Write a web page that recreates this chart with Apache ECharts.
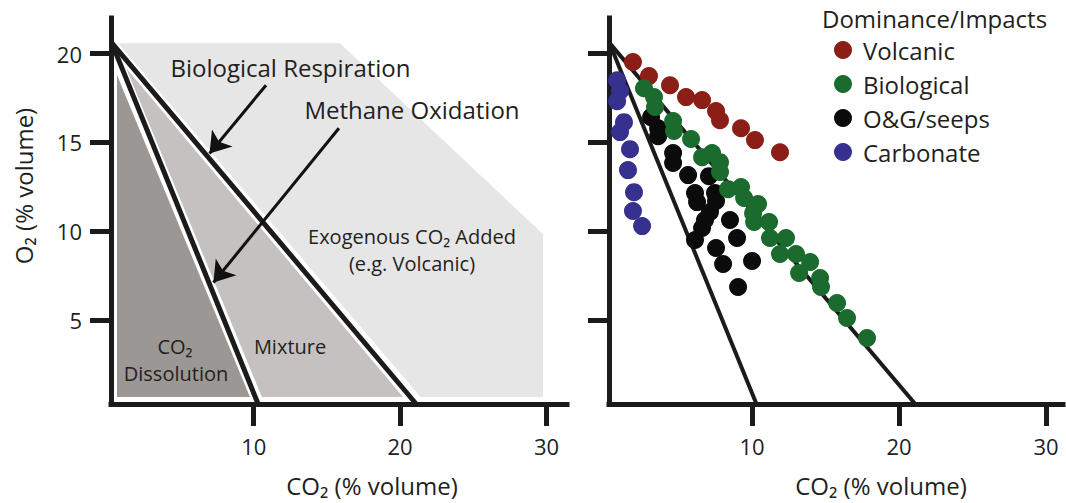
<!DOCTYPE html>
<html><head><meta charset="utf-8">
<script src="https://cdn.jsdelivr.net/npm/echarts@6/dist/echarts.min.js"></script>
<style>html,body{margin:0;padding:0;background:#fff}#c{width:1066px;height:503px}</style>
</head><body><div id="c"></div>
<script>
// ---------- data ----------
const xTicks = [10, 20, 30];
const yTicks = [5, 10, 15, 20];
const seriesNames = ['Volcanic', 'Biological', 'O&G/seeps', 'Carbonate'];
const volcanic = [[1.90,19.52],[2.99,18.73],[4.42,18.22],[5.51,17.55],[6.60,17.38],[7.55,16.76],[7.82,16.25],[9.25,15.80],[10.20,15.13],[11.90,14.45]];
const biological = [[2.65,18.05],[3.33,17.55],[3.40,16.99],[4.63,16.20],[4.69,15.64],[5.85,15.19],[6.60,14.17],[7.28,14.40],[7.82,13.89],[7.82,13.33],[8.37,12.37],[9.25,12.49],[9.46,11.87],[10.41,11.53],[10.07,11.02],[10.14,10.52],[11.16,10.52],[11.22,9.62],[12.31,9.62],[11.90,8.72],[12.99,8.72],[13.95,8.27],[13.20,7.65],[14.63,7.37],[14.69,6.86],[15.78,5.96],[16.46,5.12],[17.82,3.99]];
const ogSeeps = [[3.13,16.42],[3.61,15.80],[3.61,15.35],[4.63,14.40],[4.63,13.84],[5.65,13.16],[7.07,13.10],[6.12,12.15],[6.26,11.64],[7.48,12.15],[7.55,11.70],[7.14,11.08],[6.80,10.63],[6.60,10.18],[6.12,9.51],[8.50,10.63],[8.98,9.62],[7.55,9.06],[8.03,8.16],[10.00,8.33],[9.05,6.86]];
const carbonate = [[0.82,18.50],[1.02,17.89],[0.82,17.32],[1.29,16.14],[1.02,15.58],[1.70,14.62],[1.56,13.44],[1.97,12.20],[1.90,11.14],[2.52,10.29]];
const respirationLine = [[0.3,20.6],[21.1,0.28]];
const methaneLine = [[0.3,20.6],[10.3,0.28]];
const exogenousRegion = [[0.73,20.58],[15.89,20.58],[29.76,9.84],[29.76,0.67],[21.4,0.67]];
const mixtureRegion = [[1.28,19.18],[20.2,0.67],[10.56,0.67]];
const dissolutionRegion = [[0.66,18.79],[9.74,0.67],[0.66,0.67]];
const arrowRespiration = [[10.84,18.22],[6.98,14.38]];
const arrowMethane = [[15.82,15.80],[7.25,7.12]];
const bigLabels = [['Biological Respiration',[12.51,19.23]],['Methane Oxidation',[20.81,16.87]]];
const smallLabels = [['Exogenous CO₂ Added',[20.81,9.69]],['(e.g. Volcanic)',[20.81,8.18]],['Mixture',[12.48,3.54]],['CO₂',[4.62,3.54]],['Dissolution',[4.69,2.02]]];

// ---------- style ----------
const FONT = 'Open Sans';
const TXT = '#231f20';
const AX = '#1b1b1b';
const colors = {'Volcanic':'#8b1f18','Biological':'#1b6b2e','O&G/seeps':'#0b0b0b','Carbonate':'#36308f'};

function xAxisCfg(gi, min, max, shift){
  return {type:'value', gridIndex:gi, min:min, max:max,
    axisLine:{show:true, onZero:false, lineStyle:{color:AX, width:5, cap:'square'}},
    axisTick:{show:true, inside:false, length:22, customValues:xTicks, lineStyle:{color:AX, width:5}},
    axisLabel:{show:true, customValues:xTicks, margin:31, fontSize:22, color:TXT, fontFamily:FONT},
    splitLine:{show:false},
    name:'CO₂ (% volume)', nameLocation:'middle', nameGap:69, nameMoveOverlap:false,
    nameTextStyle:{fontSize:24, color:TXT, fontFamily:FONT, padding:[0,0,0,shift]}
  };
}
function yAxisCfg(gi, showLabel){
  const c = {type:'value', gridIndex:gi, min:0.28, max:22,
    axisLine:{show:true, onZero:false, lineStyle:{color:AX, width:5, cap:'square'}},
    axisTick:{show:true, inside:false, length:21, customValues:yTicks, lineStyle:{color:AX, width:5}},
    axisLabel:{show:showLabel, customValues:yTicks, margin:29, fontSize:22, color:TXT, fontFamily:FONT},
    splitLine:{show:false}
  };
  if (showLabel) {
    c.name = 'O₂ (% volume)'; c.nameLocation = 'middle'; c.nameGap = 76; c.nameMoveOverlap = false;
    c.nameTextStyle = {fontSize:24, color:TXT, fontFamily:FONT, padding:[0,0,0,50]};
  }
  return c;
}
function polygon(points, fill){
  return {type:'custom', xAxisIndex:0, yAxisIndex:0, silent:true, z:1, clip:false,
    data: points, encode:{x:0, y:1},
    renderItem: function(params, api){
      if (params.dataIndex !== 0) return null;
      return {type:'polygon', shape:{points: points.map(p => api.coord(p))}, style:{fill:fill}};
    }};
}
function straight(gi, coords, width, z){
  return {type:'lines', coordinateSystem:'cartesian2d', xAxisIndex:gi, yAxisIndex:gi, silent:true, z:z,
    symbol:'none', lineStyle:{color:AX, width:width, opacity:1, cap:'butt'},
    data:[{coords:coords}]};
}
function arrow(coords){
  return {type:'lines', coordinateSystem:'cartesian2d', xAxisIndex:0, yAxisIndex:0, silent:true, z:6,
    symbol:['none','arrow'], symbolSize:20, lineStyle:{color:'#111', width:3, opacity:1},
    data:[{coords:coords}]};
}
function labels(list, size){
  return {type:'custom', xAxisIndex:0, yAxisIndex:0, silent:true, z:7, clip:false,
    data: list.map(d => d[1]), encode:{x:0, y:1},
    renderItem: function(params, api){
      const p = api.coord(list[params.dataIndex][1]);
      return {type:'text', x:p[0], y:p[1], style:{text:list[params.dataIndex][0], fontSize:size, fontFamily:FONT, fill:TXT, align:'center', verticalAlign:'middle'}};
    }};
}
function scatter(name, data, z){
  return {type:'scatter', name:name, xAxisIndex:1, yAxisIndex:1, data:data, symbol:'circle', symbolSize:18, z:z,
    itemStyle:{color:colors[name], opacity:1}, emphasis:{disabled:true}};
}

const chart = echarts.init(document.getElementById('c'), null, {renderer:'svg'});
chart.setOption({
  animation:false,
  backgroundColor:'#ffffff',
  title:{text:'Dominance/Impacts', left:822, top:6, padding:0,
    textStyle:{fontSize:24, fontWeight:'normal', color:TXT, fontFamily:FONT}},
  legend:{orient:'vertical', left:834, top:38, itemWidth:30, itemHeight:18, itemGap:10, icon:'circle', padding:0,
    selectedMode:false, data:seriesNames,
    textStyle:{fontSize:24, color:TXT, fontFamily:FONT}},
  grid:[
    {left:111, top:18, width:456, height:386, containLabel:false, outerBoundsMode:'none'},
    {left:609, top:18, width:454, height:386, containLabel:false, outerBoundsMode:'none'}
  ],
  xAxis:[xAxisCfg(0, 0.25, 31.4, 66), xAxisCfg(1, 0.27, 31.15, 90)],
  yAxis:[yAxisCfg(0, true), yAxisCfg(1, false)],
  series:[
    polygon(exogenousRegion, '#e7e6e7'),
    polygon(mixtureRegion, '#c4c1c0'),
    polygon(dissolutionRegion, '#9b9794'),
    straight(0, respirationLine, 5, 5),
    straight(0, methaneLine, 5, 5),
    arrow(arrowRespiration),
    arrow(arrowMethane),
    labels(bigLabels, 24),
    labels(smallLabels, 20),
    straight(1, respirationLine, 4, 1),
    straight(1, methaneLine, 4, 1),
    scatter('Volcanic', volcanic, 4),
    scatter('Biological', biological, 4),
    scatter('O&G/seeps', ogSeeps, 3),
    scatter('Carbonate', carbonate, 4)
  ]
});
</script></body></html>
